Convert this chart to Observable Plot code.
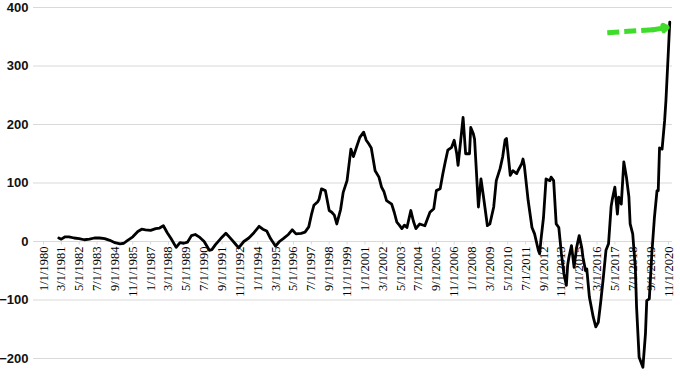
<!DOCTYPE html>
<html>
<head>
<meta charset="utf-8">
<script src="https://cdn.jsdelivr.net/npm/d3@7"></script>
<script src="https://cdn.jsdelivr.net/npm/@observablehq/plot@0.6"></script>
<style>
  html, body { margin: 0; padding: 0; background: #fff; }
  #chart svg { display: block; }
  .xlab text { font-family: "Liberation Serif", "Times New Roman", serif; }
</style>
</head>
<body>
<div id="chart"></div>
<script>
const tickLabels = ["1/1/1980","3/1/1981","5/1/1982","7/1/1983","9/1/1984","11/1/1985","1/1/1987","3/1/1988","5/1/1989","7/1/1990","9/1/1991","11/1/1992","1/1/1994","3/1/1995","5/1/1996","7/1/1997","9/1/1998","11/1/1999","1/1/2001","3/1/2002","5/1/2003","7/1/2004","9/1/2005","11/1/2006","1/1/2008","3/1/2009","5/1/2010","7/1/2011","9/1/2012","11/1/2013","1/1/2015","3/1/2016","5/1/2017","7/1/2018","9/1/2019","11/1/2020"];

const yTicks = [-200, -100, 0, 100, 200, 300, 400];

const dates = ["1981-01","1981-03","1981-06","1981-09","1982-01","1982-05","1982-09","1983-01","1983-05","1983-09",
"1984-01","1984-05","1984-09","1985-01","1985-04","1985-07","1985-11","1986-03","1986-06","1986-09",
"1987-01","1987-05","1987-08","1987-11","1988-02","1988-05","1988-09","1988-12","1989-03","1989-06",
"1989-09","1989-12","1990-03","1990-07","1990-11","1991-01","1991-04","1991-08","1991-12","1992-03",
"1992-07","1992-10","1993-02","1993-06","1993-10","1994-02","1994-05","1994-08","1994-11","1995-03",
"1995-06","1995-09","1996-01","1996-04","1996-07","1996-11","1997-02","1997-05","1997-07","1997-09",
"1997-12","1998-01","1998-03","1998-06","1998-09","1998-11","1999-01","1999-03","1999-06","1999-08",
"1999-11","2000-01","2000-02","2000-04","2000-07","2000-09","2000-12","2001-02","2001-04","2001-06",
"2001-09","2001-12","2002-02","2002-04","2002-06","2002-10","2002-12","2003-02","2003-04","2003-06",
"2003-08","2003-10","2004-01","2004-03","2004-05","2004-08","2004-12","2005-04","2005-07","2005-09",
"2005-12","2006-02","2006-04","2006-06","2006-09","2006-11","2007-01","2007-02","2007-04","2007-06",
"2007-08","2007-11","2007-12","2008-02","2008-03","2008-06","2008-08","2008-10","2009-01","2009-03",
"2009-06","2009-08","2009-11","2010-01","2010-03","2010-04","2010-07","2010-09","2010-12","2011-01",
"2011-04","2011-05","2011-06","2011-09","2011-12","2012-02","2012-05","2012-06","2012-07","2012-09",
"2012-11","2013-02","2013-03","2013-05","2013-07","2013-09","2013-11","2014-01","2014-03","2014-04",
"2014-05","2014-07","2014-09","2014-11","2015-01","2015-03","2015-04","2015-06","2015-07","2015-09",
"2015-12","2016-02","2016-04","2016-06","2016-08","2016-10","2016-12","2017-02","2017-03","2017-05",
"2017-07","2017-08","2017-10","2017-12","2018-02","2018-04","2018-05","2018-07","2018-09","2018-10",
"2018-12","2019-03","2019-05","2019-06","2019-08","2019-10","2019-12","2020-02","2020-03","2020-04",
"2020-06","2020-08","2020-09","2020-11","2020-12"];

const values = [6,4,8,8,6,5,3,4,6,6,
5,2,-2,-4,-3,2,8,17,21,20,
19,22,23,27,15,5,-10,-2,-3,-1,
10,12,8,0,-15,-14,-5,5,14,7,
-3,-11,0,6,15,26,21,18,5,-8,
0,5,12,20,13,14,16,25,45,62,
68,72,90,87,53,50,45,30,55,84,
104,140,158,145,165,178,187,173,167,160,
121,110,93,85,70,64,50,33,28,22,
28,24,53,35,22,30,27,50,56,87,
90,115,136,156,161,173,150,130,170,212,
150,150,195,184,175,59,107,76,27,30,
59,104,125,145,174,176,113,121,116,121,
133,141,130,70,24,13,-15,-21,2,41,
107,104,110,104,30,24,-20,-55,-75,-40,
-27,-7,-44,-10,10,-10,-27,-50,-47,-95,
-129,-146,-138,-101,-60,-15,-4,60,72,93,
47,76,64,136,110,76,30,13,-44,-112,
-198,-215,-158,-101,-98,-20,41,87,87,160,
158,207,241,330,375];

// green annotation arrow (dates / values)
const arrowDates = ["2016-11", "2019-11", "2020-10"];
const arrowValues = [357, 362, 366];

const parseLabel = s => { const [m, d, y] = s.split("/"); return new Date(Date.UTC(+y, +m - 1, +d)); };
const parseYM = s => new Date(s + "-01T00:00:00Z");

const labelDates = tickLabels.map(parseLabel);
const data = dates.map((d, i) => ({date: parseYM(d), value: values[i]}));
const arrowPts = arrowDates.map((d, i) => ({date: parseYM(d), value: arrowValues[i]}));

const green = "#3fdc2c";

const chart = Plot.plot({
  width: 680,
  height: 383,
  marginLeft: 33,
  marginRight: 8,
  marginTop: 7,
  marginBottom: 25,
  style: {background: "#fff"},
  x: {type: "utc", domain: [labelDates[0], labelDates[labelDates.length - 1]], range: [43, 668], axis: null},
  y: {domain: [-200, 400], axis: null},
  marks: [
    Plot.ruleY(yTicks, {stroke: "#d9d9d9", strokeWidth: 1}),
    Plot.ruleX(labelDates, {x: d => d, y1: 0, y2: -6, stroke: "#d9d9d9"}),
    Plot.axisY({ticks: yTicks, tickSize: 0, tickPadding: 5, fontSize: 13, fontWeight: "bold",
      fontFamily: "Liberation Sans, Arial, sans-serif", fill: "#111", label: null}),
    Plot.text(labelDates, {x: d => d, y: 0, text: (d, i) => tickLabels[i], rotate: -90,
      textAnchor: "end", dy: 5, fontSize: 12.5, fill: "#000", className: "xlab"}),
    Plot.line(data, {x: "date", y: "value", stroke: "#000", strokeWidth: 2.8, strokeLinejoin: "round"}),
    Plot.link([arrowPts[0]], {x1: "date", y1: "value", x2: () => arrowPts[1].date, y2: () => arrowPts[1].value,
      stroke: green, strokeWidth: 5, strokeDasharray: "12,5"}),
    Plot.arrow([arrowPts[1]], {x1: "date", y1: "value", x2: () => arrowPts[2].date, y2: () => arrowPts[2].value,
      stroke: green, strokeWidth: 5, headLength: 12, headAngle: 70, bend: 0})
  ]
});

document.getElementById("chart").appendChild(chart);
</script>
</body>
</html>
